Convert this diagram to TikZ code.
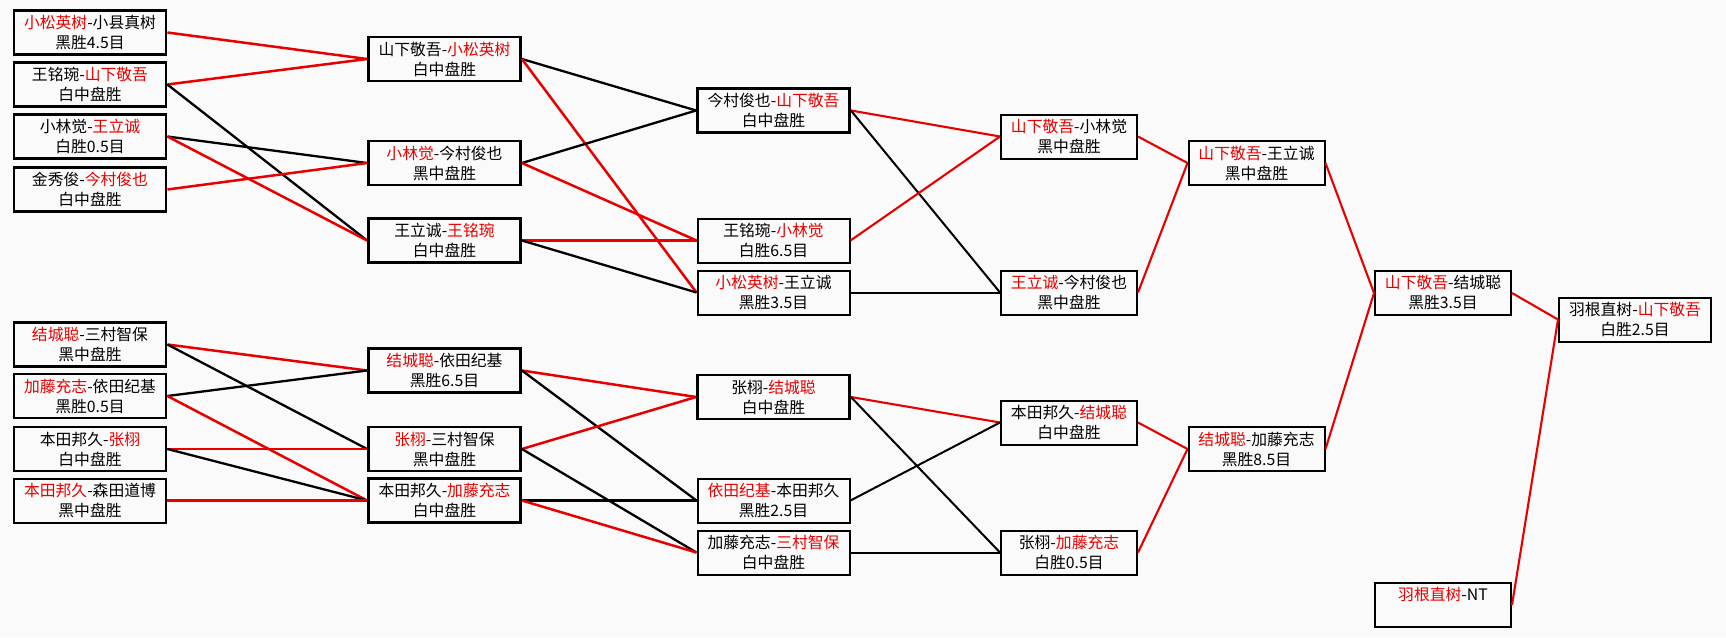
\documentclass[tikz,border=0pt]{standalone}
\usepackage{fontspec}
\setmainfont{Noto Sans CJK SC}
\definecolor{wred}{RGB}{232,0,0}
\definecolor{bgc}{RGB}{250,250,250}
\newcommand\rd[1]{\textcolor{wred}{#1}}
\tikzset{
  game/.style={draw=black, line width=2pt, minimum height=44pt, inner sep=0pt,
    align=center, font=\fontsize{15.8}{20}\selectfont},
  heavy/.style={line width=2.8pt},
  cA/.style={game, minimum width=152pt},
  cB/.style={game, minimum width=136pt},
  win/.style={draw=wred, line width=2.5pt},
  lose/.style={draw=black, line width=2.3pt},
  winB/.style={draw=wred, line width=2.1pt},
  loseB/.style={draw=black, line width=2pt},
}
\begin{document}
\begin{tikzpicture}[x=1pt,y=-1pt]
\fill[bgc] (0,0) rectangle (1726,637);
\useasboundingbox (0,0) rectangle (1726,637);
% column 1
\node[cA,heavy] (L1) at (90,32.5)  {\rd{小松英树}-小县真树\\黑胜4.5目};
\node[cA,heavy] (L2) at (90,84.5)  {王铭琬-\rd{山下敬吾}\\白中盘胜};
\node[cA,heavy] (L3) at (90,136.5) {小林觉-\rd{王立诚}\\白胜0.5目};
\node[cA,heavy] (L4) at (90,189.5) {金秀俊-\rd{今村俊也}\\白中盘胜};
\node[cA,heavy] (L5) at (90,344.5) {\rd{结城聪}-三村智保\\黑中盘胜};
\node[cA,heavy] (L6) at (90,396)   {\rd{加藤充志}-依田纪基\\黑胜0.5目};
\node[cA,heavy] (L7) at (90,449)   {本田邦久-\rd{张栩}\\白中盘胜};
\node[cA] (L8) at (90,500.5) {\rd{本田邦久}-森田道博\\黑中盘胜};
% column 2
\node[cA,heavy] (B1) at (444.5,59)    {山下敬吾-\rd{小松英树}\\白中盘胜};
\node[cA,heavy] (B2) at (444.5,163)   {\rd{小林觉}-今村俊也\\黑中盘胜};
\node[cA,heavy] (B3) at (444.5,240.5) {王立诚-\rd{王铭琬}\\白中盘胜};
\node[cA,heavy] (B4) at (444.5,370.5) {\rd{结城聪}-依田纪基\\黑胜6.5目};
\node[cA,heavy] (B5) at (444.5,449)   {\rd{张栩}-三村智保\\黑中盘胜};
\node[cA,heavy] (B6) at (444.5,500.5) {本田邦久-\rd{加藤充志}\\白中盘胜};
% column 3
\node[cA,heavy] (C1) at (773.5,110.5) {今村俊也-\rd{山下敬吾}\\白中盘胜};
\node[cA] (C2) at (773.5,240.5) {王铭琬-\rd{小林觉}\\白胜6.5目};
\node[cA] (C3) at (773.5,292.5) {\rd{小松英树}-王立诚\\黑胜3.5目};
\node[cA,heavy] (C4) at (773.5,397)   {张栩-\rd{结城聪}\\白中盘胜};
\node[cA] (C5) at (773.5,500.5) {\rd{依田纪基}-本田邦久\\黑胜2.5目};
\node[cA] (C6) at (773.5,552.5) {加藤充志-\rd{三村智保}\\白中盘胜};
% column 4
\node[cB] (D1) at (1069,136.5) {\rd{山下敬吾}-小林觉\\黑中盘胜};
\node[cB] (D2) at (1069,292.5) {\rd{王立诚}-今村俊也\\黑中盘胜};
\node[cB] (D3) at (1069,422.5) {本田邦久-\rd{结城聪}\\白中盘胜};
\node[cB] (D4) at (1069,552.5) {张栩-\rd{加藤充志}\\白胜0.5目};
% column 5
\node[cB] (E1) at (1256.5,163) {\rd{山下敬吾}-王立诚\\黑中盘胜};
\node[cB] (E2) at (1256.5,449) {\rd{结城聪}-加藤充志\\黑胜8.5目};
% column 6
\node[cB] (G1) at (1443,293) {\rd{山下敬吾}-结城聪\\黑胜3.5目};
\node[cB] (G2) at (1443,605) {\rd{羽根直树}-NT\\\phantom{黑中盘胜}};
% final
\node[cA] (F) at (1635,319.5) {羽根直树-\rd{山下敬吾}\\白胜2.5目};
% round 1 -> 2
\draw[win]  (L1.east) -- (B1.west);
\draw[win]  (L2.east) -- (B1.west);
\draw[lose] (L2.east) -- (B3.west);
\draw[lose] (L3.east) -- (B2.west);
\draw[win]  (L3.east) -- (B3.west);
\draw[win]  (L4.east) -- (B2.west);
\draw[win]  (L5.east) -- (B4.west);
\draw[lose] (L5.east) -- (B5.west);
\draw[lose] (L6.east) -- (B4.west);
\draw[win]  (L6.east) -- (B6.west);
\draw[win]  (L7.east) -- (B5.west);
\draw[lose] (L7.east) -- (B6.west);
\draw[win]  (L8.east) -- (B6.west);
% round 2 -> 3
\draw[lose] (B1.east) -- (C1.west);
\draw[win]  (B1.east) -- (C3.west);
\draw[lose] (B2.east) -- (C1.west);
\draw[win]  (B2.east) -- (C2.west);
\draw[win]  (B3.east) -- (C2.west);
\draw[lose] (B3.east) -- (C3.west);
\draw[win]  (B4.east) -- (C4.west);
\draw[lose] (B4.east) -- (C5.west);
\draw[win]  (B5.east) -- (C4.west);
\draw[lose] (B5.east) -- (C6.west);
\draw[lose] (B6.east) -- (C5.west);
\draw[win]  (B6.east) -- (C6.west);
% round 3 -> 4
\draw[winB]  (C1.east) -- (D1.west);
\draw[loseB] (C1.east) -- (D2.west);
\draw[winB]  (C2.east) -- (D1.west);
\draw[loseB] (C3.east) -- (D2.west);
\draw[winB]  (C4.east) -- (D3.west);
\draw[loseB] (C4.east) -- (D4.west);
\draw[loseB] (C5.east) -- (D3.west);
\draw[loseB] (C6.east) -- (D4.west);
% round 4 -> 5
\draw[winB] (D1.east) -- (E1.west);
\draw[winB] (D2.east) -- (E1.west);
\draw[winB] (D3.east) -- (E2.west);
\draw[winB] (D4.east) -- (E2.west);
% round 5 -> 6
\draw[winB] (E1.east) -- (G1.west);
\draw[winB] (E2.east) -- (G1.west);
% final
\draw[winB] (G1.east) -- (F.west);
\draw[winB] (G2.east) -- (F.west);
\end{tikzpicture}
\end{document}
